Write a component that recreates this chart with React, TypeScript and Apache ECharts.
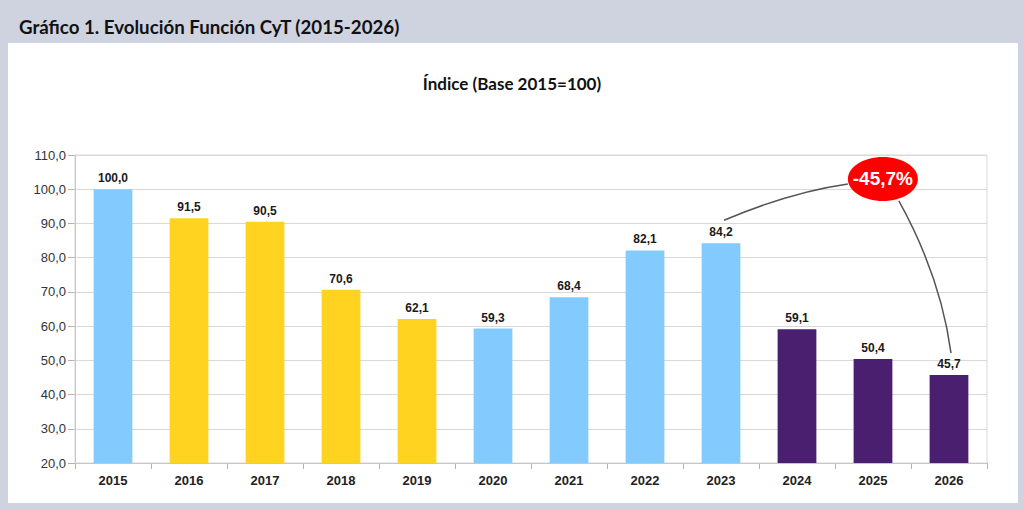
import React, { useEffect, useRef } from "react";
import * as echarts from "echarts";

const categories = ["2015", "2016", "2017", "2018", "2019", "2020", "2021", "2022", "2023", "2024", "2025", "2026"];
const values = [100.0, 91.5, 90.5, 70.6, 62.1, 59.3, 68.4, 82.1, 84.2, 59.1, 50.4, 45.7];
const periodColors = ["#83CAFF", "#FFD320", "#FFD320", "#FFD320", "#FFD320", "#83CAFF", "#83CAFF", "#83CAFF", "#83CAFF", "#4B1F6F", "#4B1F6F", "#4B1F6F"];
const yTicks = { min: 20, max: 110, interval: 10 };
const headerTitle = "Gráfico 1. Evolución Función CyT (2015-2026)";
const chartTitle = "Índice (Base 2015=100)";
const changeLabel = "-45,7%";

const fmt = (v: number) => v.toFixed(1).replace(".", ",");

export default function App() {
  const ref = useRef<HTMLDivElement>(null);
  useEffect(() => {
    if (!ref.current) return;
    const chart = echarts.init(ref.current, null, { renderer: "svg" });
    const option: any = {
      animation: false,
      backgroundColor: "#CFD3E0",
      title: [
        {
          text: headerTitle,
          left: 14,
          top: 12,
          textStyle: { fontFamily: "Lato", fontWeight: "bold", fontSize: 18.7, color: "#111" },
        },
        {
          text: chartTitle,
          left: "center",
          top: 70,
          textStyle: { fontFamily: "Lato", fontWeight: "bold", fontSize: 17, color: "#111" },
        },
      ],
      grid: {
        left: 75,
        right: 1024 - 987,
        top: 155,
        bottom: 510 - 463,
        show: true,
        borderColor: "#D9D9D9",
        borderWidth: 1,
        backgroundColor: "transparent",
        z: 1,
      },
      xAxis: {
        type: "category",
        data: categories,
        axisLine: { lineStyle: { color: "#B3B3B3" } },
        axisTick: { show: true, length: 6, lineStyle: { color: "#B3B3B3" } },
        axisLabel: {
          fontFamily: "Liberation Sans",
          fontWeight: "bold",
          fontSize: 13,
          color: "#222",
          margin: 11,
        },
      },
      yAxis: {
        type: "value",
        min: yTicks.min,
        max: yTicks.max,
        interval: yTicks.interval,
        axisLine: { show: true, lineStyle: { color: "#B3B3B3" } },
        axisTick: { show: true, length: 7, lineStyle: { color: "#B3B3B3" } },
        splitLine: { lineStyle: { color: "#D9D9D9" } },
        axisLabel: {
          fontFamily: "Liberation Sans",
          fontSize: 13,
          color: "#333",
          margin: 9,
          formatter: (v: number) => fmt(v),
        },
      },
      series: [
        {
          type: "bar",
          barWidth: "51%",
          data: values.map((v, i) => ({ value: v, itemStyle: { color: periodColors[i] } })),
          label: {
            show: true,
            position: "top",
            distance: 5,
            fontFamily: "Liberation Sans",
            fontWeight: "bold",
            fontSize: 12,
            color: "#1A1A1A",
            formatter: (p: any) => fmt(p.value),
          },
          z: 3,
        },
      ],
    };
    chart.setOption(option);

    const px = (i: number, v: number) => chart.convertToPixel({ gridIndex: 0 }, [categories[i], v]) as number[];
    const last = values.length - 1;
    const iStart = 8;
    const pStart = px(iStart, values[iStart]);
    const pEnd = px(last, values[last]);
    const pPrev = px(last - 1, values[last - 1]);
    const top = px(0, 103);
    const ex = pPrev[0] + (pEnd[0] - pPrev[0]) * 0.13;
    const ey = top[1];
    const rx = 35;
    const ry = 22;
    const s1 = [pStart[0] + 3, pStart[1] - 23];
    const e1 = [ex - rx, ey + 5];
    const s2 = [ex + 16, ey + 22];
    const e2 = [pEnd[0] + 2, pEnd[1] - 22];

    chart.setOption({
      graphic: [
        {
          type: "rect",
          z: -10,
          silent: true,
          shape: { x: 8, y: 43, width: 1010, height: 460 },
          style: { fill: "#FFFFFF" },
        },
        {
          type: "bezierCurve",
          z: 50,
          shape: { x1: s1[0], y1: s1[1], x2: e1[0], y2: e1[1], cpx1: s1[0] + 67, cpy1: e1[1] + 8 },
          style: { stroke: "#555", lineWidth: 1.5, fill: "none" },
        },
        {
          type: "bezierCurve",
          z: 50,
          shape: { x1: s2[0], y1: s2[1], x2: e2[0], y2: e2[1], cpx1: s2[0] + 42, cpy1: s2[1] + 76 },
          style: { stroke: "#555", lineWidth: 1.5, fill: "none" },
        },
        {
          type: "ellipse",
          z: 60,
          shape: { cx: ex, cy: ey, rx, ry },
          style: { fill: "#FF0000" },
        },
        {
          type: "text",
          z: 61,
          x: ex,
          y: ey,
          style: {
            text: changeLabel,
            fill: "#FFFFFF",
            font: "bold 19px 'Liberation Sans'",
            align: "center",
            verticalAlign: "middle",
          },
        },
      ],
    });

    return () => chart.dispose();
  }, []);
  return <div ref={ref} style={{ position: "fixed", left: 0, top: 0, width: 1024, height: 510 }} />;
}
